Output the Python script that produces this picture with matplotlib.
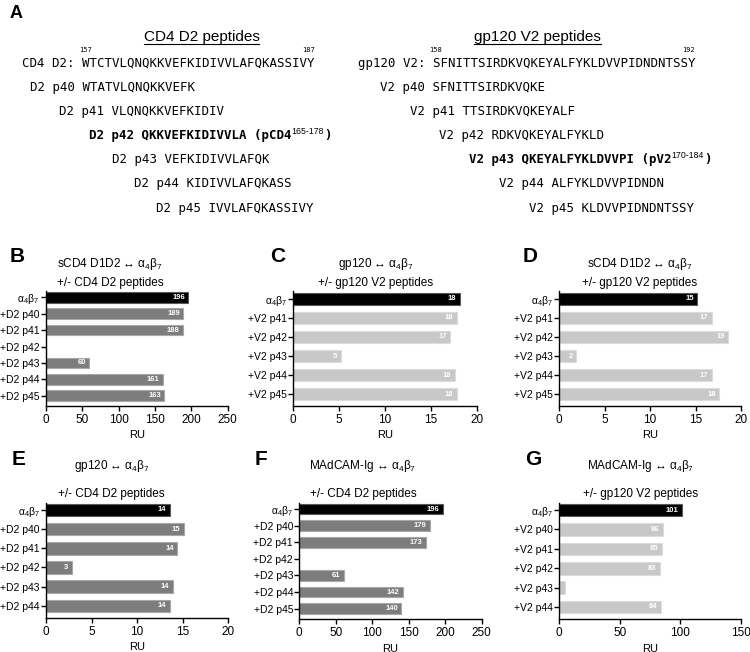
import matplotlib
matplotlib.use("Agg")
import matplotlib.pyplot as plt
from matplotlib.lines import Line2D

plt.rcParams["font.family"] = ["Liberation Sans", "DejaVu Sans"]
plt.rcParams["mathtext.fontset"] = "custom"
plt.rcParams["mathtext.rm"] = "Liberation Sans"
plt.rcParams["mathtext.it"] = "Liberation Sans:italic"
plt.rcParams["mathtext.bf"] = "Liberation Sans:bold"

# ---- panel A: peptide maps ----
cd4_parent = "WTCTVLQNQKKVEFKIDIVVLAFQKASSIVY"
cd4_first = 157
cd4_names = ["D2 p40", "D2 p41", "D2 p42", "D2 p43", "D2 p44", "D2 p45"]
cd4_peps = ["WTATVLQNQKKVEFK", "VLQNQKKVEFKIDIV", "QKKVEFKIDIVVLA",
            "VEFKIDIVVLAFQK", "KIDIVVLAFQKASS", "IVVLAFQKASSIVY"]
cd4_bold = "D2 p42"

v2_parent = "SFNITTSIRDKVQKEYALFYKLDVVPIDNDNTSSY"
v2_first = 158
v2_names = ["V2 p40", "V2 p41", "V2 p42", "V2 p43", "V2 p44", "V2 p45"]
v2_peps = ["SFNITTSIRDKVQKE", "TTSIRDKVQKEYALF", "RDKVQKEYALFYKLD",
           "QKEYALFYKLDVVPI", "ALFYKLDVVPIDNDN", "KLDVVPIDNDNTSSY"]
v2_bold = "V2 p43"

# ---- panels B-G: binding (RU) ----
a4b7 = "α$_4$β$_7$"
b_cats = [a4b7, "+D2 p40", "+D2 p41", "+D2 p42", "+D2 p43", "+D2 p44", "+D2 p45"]
b_vals = [196, 189, 188, 0, 60, 161, 163]
c_cats = [a4b7, "+V2 p41", "+V2 p42", "+V2 p43", "+V2 p44", "+V2 p45"]
c_vals = [18.15, 17.8, 17.1, 5.2, 17.6, 17.8]
d_cats = [a4b7, "+V2 p41", "+V2 p42", "+V2 p43", "+V2 p44", "+V2 p45"]
d_vals = [15.2, 16.8, 18.6, 1.9, 16.8, 17.6]
e_cats = [a4b7, "+D2 p40", "+D2 p41", "+D2 p42", "+D2 p43", "+D2 p44"]
e_vals = [13.6, 15.1, 14.4, 2.8, 13.9, 13.6]
f_cats = [a4b7, "+D2 p40", "+D2 p41", "+D2 p42", "+D2 p43", "+D2 p44", "+D2 p45"]
f_vals = [196.5, 178.7, 173.2, 0, 61.3, 141.7, 139.9]
g_cats = [a4b7, "+V2 p40", "+V2 p41", "+V2 p42", "+V2 p43", "+V2 p44"]
g_vals = [101.1, 85.7, 84.9, 83.2, 5.2, 83.8]

W, H = 750, 652
fig = plt.figure(figsize=(7.5, 6.52), dpi=100)


def fx(x):
    return x / W


def fy(y):
    return 1 - y / H


def align(pep, parent):
    # offset with the most matching residues
    best, best_off = -1, 0
    for off in range(len(parent) - len(pep) + 1):
        m = sum(a == b for a, b in zip(pep, parent[off:]))
        if m > best:
            best, best_off = m, off
    return best_off


renderer = fig.canvas.get_renderer()
cw = 7.45          # px per monospace character
mono = "DejaVu Sans Mono"
mono_size = 8.9
rows_y = [66.5 + 24.2 * i for i in range(7)]


def peptide_block(title, title_x, parent, first, label, seq_x, names, peps, bold_name, tag):
    t = fig.text(fx(title_x), fy(40.7), title, ha="center", va="baseline", fontsize=11)
    bb = t.get_window_extent(renderer)
    fig.add_artist(Line2D([bb.x0 / W, bb.x1 / W], [fy(43.8), fy(43.8)],
                          transform=fig.transFigure, color="black", lw=0.8))
    prefix = label + " "
    fig.text(fx(seq_x - len(prefix) * cw), fy(rows_y[0]), prefix + parent,
             family=mono, fontsize=mono_size, va="baseline")
    for i, num in [(0, first), (len(parent) - 1, first + len(parent) - 1)]:
        fig.text(fx(seq_x + (i + 0.5) * cw), fy(51.5), str(num), family=mono,
                 fontsize=5, ha="center", va="baseline")
    for k, (name, pep) in enumerate(zip(names, peps)):
        off = align(pep, parent)
        y = rows_y[k + 1]
        x0 = seq_x + off * cw - (len(name) + 1) * cw
        s = name + " " + pep
        if name == bold_name:
            s = s + " (p" + tag
            fig.text(fx(x0), fy(y), s, family=mono, fontsize=mono_size,
                     weight="bold", va="baseline")
            xs = x0 + len(s) * cw + 1
            sup = fig.text(fx(xs), fy(y - 5), f"{first + off}-{first + off + len(pep) - 1}",
                           fontsize=6.3, va="baseline")
            sb = sup.get_window_extent(renderer)
            fig.text(sb.x1 / W, fy(y), ")", family=mono, fontsize=mono_size,
                     weight="bold", va="baseline")
        else:
            fig.text(fx(x0), fy(y), s, family=mono, fontsize=mono_size, va="baseline")


peptide_block("CD4 D2 peptides", 201.5, cd4_parent, cd4_first, "CD4 D2:", 81.7,
              cd4_names, cd4_peps, cd4_bold, "CD4")
peptide_block("gp120 V2 peptides", 537.5, v2_parent, v2_first, "gp120 V2:", 432,
              v2_names, v2_peps, v2_bold, "V2")

# ---- bar panels ----
dark = "#7d7d7d"
light = "#c8c8c8"


def bar_panel(box, cats, vals, xmax, step, color, t1, t2, tx, ty):
    left, right, top, bottom = box
    ax = fig.add_axes([fx(left), fy(bottom), (right - left) / W, (bottom - top) / H])
    n = len(cats)
    colors = ["black"] + [color] * (n - 1)
    edges = ["#5a5a5a"] + ["#a8a8a8" if color == dark else "#dcdcdc"] * (n - 1)
    ax.barh(range(n), vals, height=0.65, color=colors, edgecolor=edges, linewidth=0.8)
    for i, v in enumerate(vals):
        if v / xmax > 0.05:
            ax.annotate(f"{round(v)}", (v, i), xytext=(-2.5, 0), textcoords="offset points",
                        ha="right", va="center", color="white", fontsize=5.5, weight="bold")
    ax.set_ylim(n - 0.38, -0.38)
    ax.set_xlim(0, xmax)
    ax.set_xticks(range(0, xmax + 1, step))
    ax.set_yticks(range(n))
    ax.set_yticklabels(cats)
    ax.spines[["top", "right"]].set_visible(False)
    for s in ["left", "bottom"]:
        ax.spines[s].set_linewidth(1.0)
    ax.tick_params(axis="y", length=3.5, width=1.0, pad=1.0, labelsize=7.5)
    ax.tick_params(axis="x", length=3.5, width=1.0, pad=2.5, labelsize=8.5)
    ax.set_xlabel("RU", fontsize=8, labelpad=3)
    fig.text(fx(tx), fy(ty[0]), t1, ha="center", va="baseline", fontsize=8.5)
    fig.text(fx(tx), fy(ty[1]), t2, ha="center", va="baseline", fontsize=8.5)
    return ax


top_t = (266.5, 286)
bot_t = (469.5, 496.5)
bar_panel((45.7, 227.7, 291, 406), b_cats, b_vals, 250, 50, dark,
          "sCD4 D1D2 ↔ " + a4b7, "+/- CD4 D2 peptides", 110, top_t)
bar_panel((293, 477, 291.5, 406), c_cats, c_vals, 20, 5, light,
          "gp120 ↔ " + a4b7, "+/- gp120 V2 peptides", 375.5, top_t)
bar_panel((559, 741, 291.5, 406), d_cats, d_vals, 20, 5, light,
          "sCD4 D1D2 ↔ " + a4b7, "+/- gp120 V2 peptides", 639.5, top_t)
bar_panel((46, 228.3, 502.7, 617.7), e_cats, e_vals, 20, 5, dark,
          "gp120 ↔ " + a4b7, "+/- CD4 D2 peptides", 111.5, bot_t)
bar_panel((299.3, 481.7, 502.7, 619), f_cats, f_vals, 250, 50, dark,
          "MAdCAM-Ig ↔ " + a4b7, "+/- CD4 D2 peptides", 363, bot_t)
bar_panel((559, 741, 502.7, 619), g_cats, g_vals, 150, 50, light,
          "MAdCAM-Ig ↔ " + a4b7, "+/- gp120 V2 peptides", 640.5, bot_t)

# panel letters
for letter, x, y, size in [("A", 10, 18, 13), ("B", 10, 262, 15), ("C", 270, 262, 15),
                           ("D", 523, 262, 15), ("E", 12, 465, 15), ("F", 255, 465, 15),
                           ("G", 525, 465, 15)]:
    fig.text(fx(x), fy(y), letter, fontsize=size, weight="bold", va="baseline")

fig.savefig("out.png", dpi=100)
